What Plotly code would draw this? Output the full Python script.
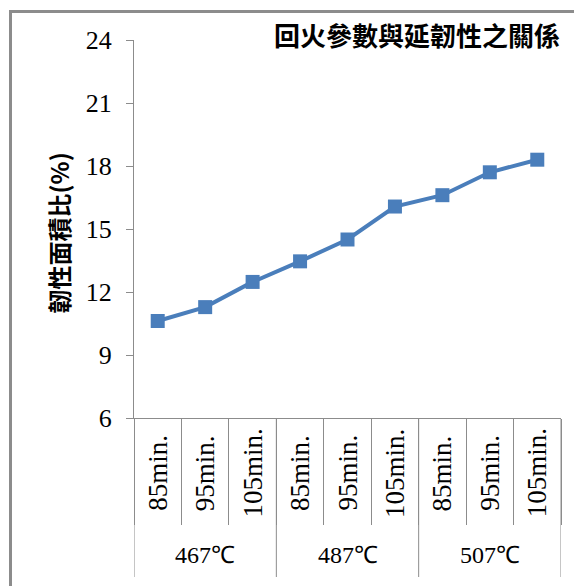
import plotly.graph_objects as go

groups = ["467℃", "487℃", "507℃"]
times = ["85min.", "95min.", "105min."]
values = [10.62, 11.28, 12.48, 13.46, 14.50, 16.07, 16.61, 17.70, 18.30]
y_ticks = [6, 9, 12, 15, 18, 21, 24]
title_text = "回火參數與延韌性之關係"
y_title = "韌性面積比(%)"

categories = [f"{g} {t}" for g in groups for t in times]
sub_labels = [t for g in groups for t in times]

LINE = "#4A7EBB"
GRAY = "#8C8C8C"
SERIF = "Liberation Serif, Times New Roman, serif"
CJK = "Noto Sans CJK TC, Noto Sans CJK SC, sans-serif"

# page body has an 8px margin; work in window pixels and convert
OFF = 8
W, H = 574, 578
PL, PR, PT, PB = 134, 561, 40, 418  # plot area in window pixels
L = PL - OFF
T = PT - OFF
R = W - (PR - OFF)
B = H - (PB - OFF)
pw, ph = PR - PL, PB - PT

def px(xp):
    return (xp - PL) / pw

def py(yp):
    return (PB - yp) / ph

fig = go.Figure()
fig.add_trace(go.Scatter(
    x=categories, y=values, mode="lines+markers",
    line=dict(color=LINE, width=4),
    marker=dict(symbol="square", size=14, color=LINE),
    showlegend=False, hoverinfo="skip",
))

fig.update_layout(
    width=W, height=H,
    margin=dict(l=L, r=R, t=T, b=B, pad=0),
    paper_bgcolor="white", plot_bgcolor="white",
    xaxis=dict(
        type="category", categoryorder="array", categoryarray=categories,
        range=[-0.5, len(categories) - 0.5],
        showticklabels=False, ticks="outside", tickson="boundaries",
        ticklen=106, tickcolor=GRAY, tickwidth=1,
        showline=True, linecolor=GRAY, linewidth=1,
        showgrid=False, zeroline=False, fixedrange=True,
    ),
    yaxis=dict(
        range=[6, 24], tickvals=y_ticks, ticktext=[str(v) for v in y_ticks],
        ticks="outside", ticklen=7, tickcolor=GRAY, tickwidth=1,
        ticklabelstandoff=9,
        tickfont=dict(family=SERIF, size=26, color="black"),
        showline=True, linecolor=GRAY, linewidth=1,
        showgrid=False, zeroline=False, fixedrange=True,
    ),
)

annotations = []
for i, lab in enumerate(sub_labels):
    annotations.append(dict(
        x=i, xref="x", y=py(473), yref="paper", text=lab, textangle=-90,
        showarrow=False, xanchor="center", yanchor="middle",
        font=dict(family=SERIF, size=27, color="black"),
    ))
for gi, g in enumerate(groups):
    annotations.append(dict(
        x=gi * 3 + 1, xref="x", y=py(555), yref="paper", text=g,
        showarrow=False, xanchor="center", yanchor="middle",
        font=dict(family=SERIF, size=24, color="black"),
    ))
annotations.append(dict(
    x=px(416.7), xref="paper", y=py(35), yref="paper", text=f"<b>{title_text}</b>",
    showarrow=False, xanchor="center", yanchor="middle",
    font=dict(family=CJK, size=26, color="black"),
))
annotations.append(dict(
    x=px(57.5), xref="paper", y=py(233), yref="paper", text=f"<b>{y_title}</b>",
    textangle=-90, showarrow=False, xanchor="center", yanchor="middle",
    font=dict(family=CJK, size=24, color="black"),
))

shapes = []
for bx in [-0.5, 2.5, 5.5, 8.5]:
    shapes.append(dict(type="line", xref="x", yref="paper", x0=bx, x1=bx,
                       y0=0, y1=py(577), line=dict(color=GRAY, width=1)))
# outer frame
shapes.append(dict(type="line", xref="paper", yref="paper", x0=px(10.5), x1=px(10.5),
                   y0=py(11.5), y1=py(620), line=dict(color=GRAY, width=3)))
shapes.append(dict(type="line", xref="paper", yref="paper", x0=px(9), x1=px(620),
                   y0=py(11.5), y1=py(11.5), line=dict(color=GRAY, width=3)))

fig.update_layout(annotations=annotations, shapes=shapes)
fig.write_html("out.html")
